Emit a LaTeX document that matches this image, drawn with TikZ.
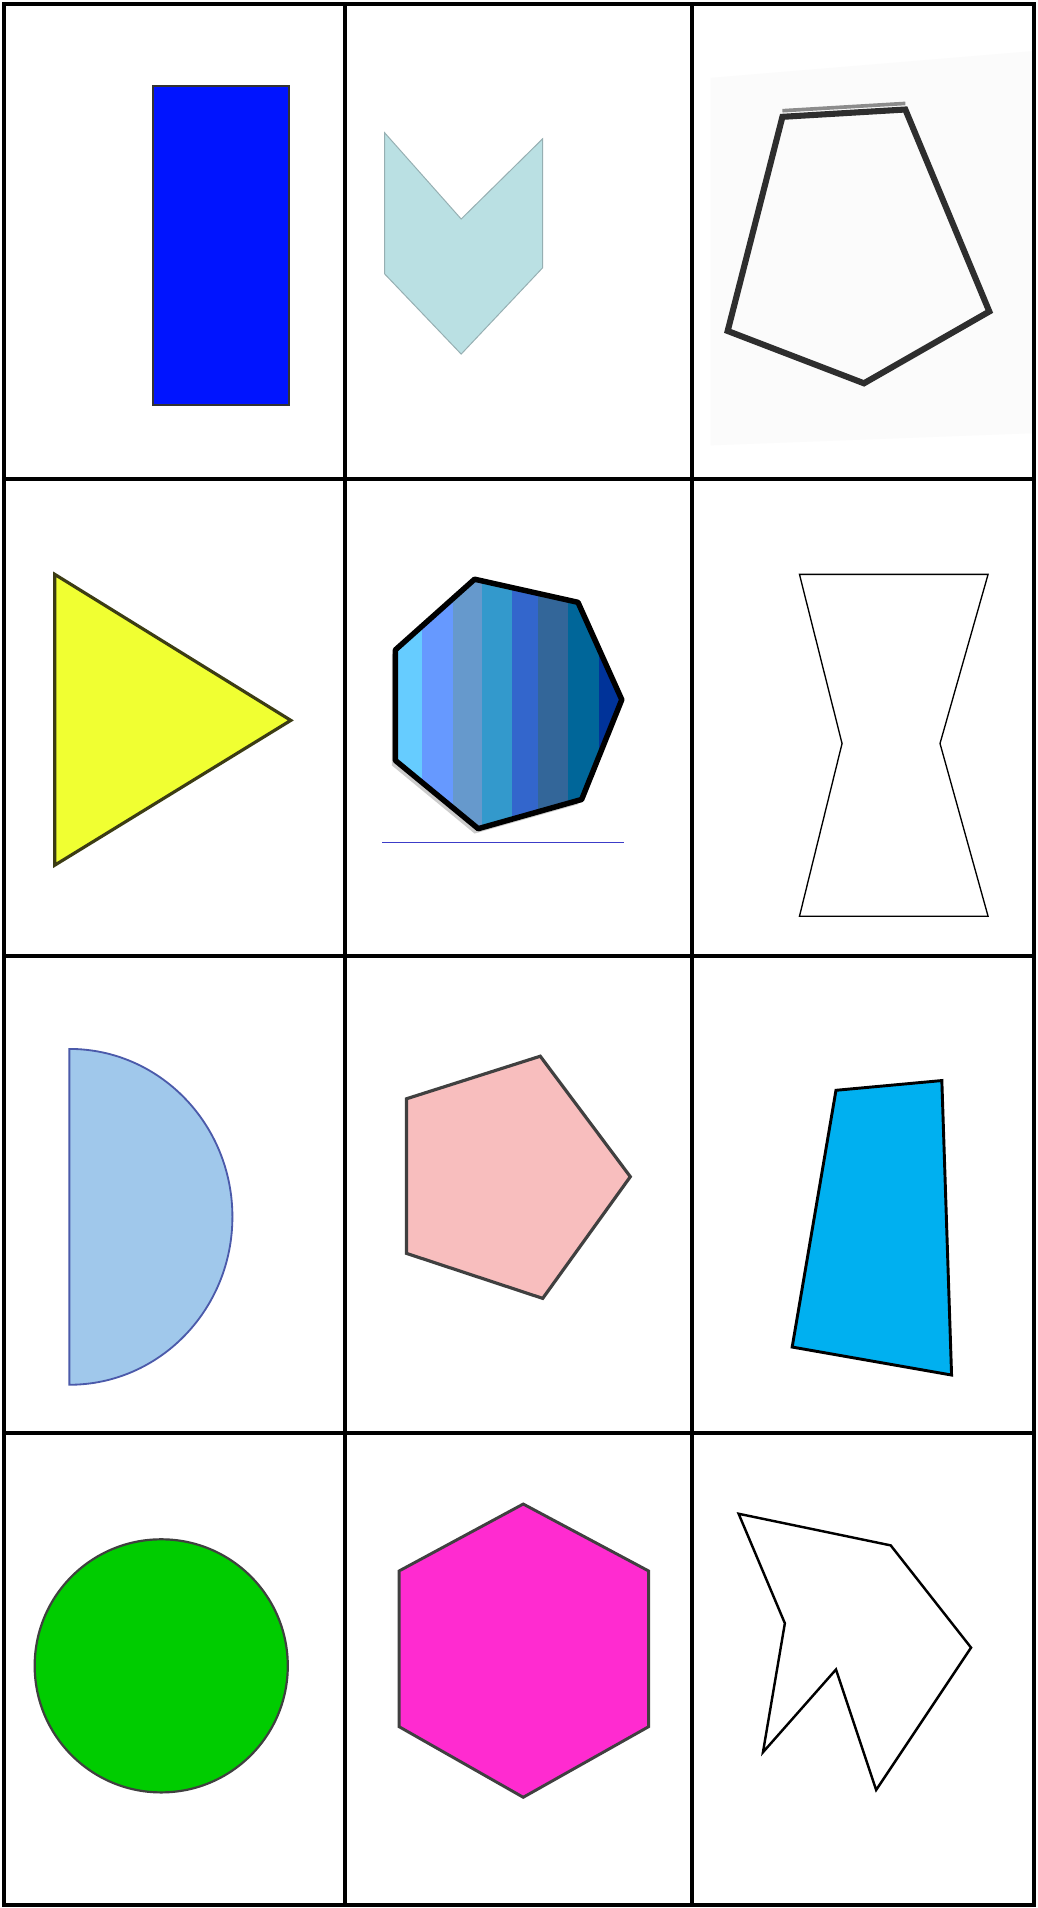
\documentclass[tikz,border=0pt]{standalone}
\definecolor{rectblue}{RGB}{0,20,255}
\definecolor{chevfill}{RGB}{186,224,227}
\definecolor{chevline}{RGB}{150,175,178}
\definecolor{trifill}{RGB}{240,255,50}
\definecolor{trilline}{RGB}{60,60,20}
\definecolor{semifill}{RGB}{160,200,235}
\definecolor{semiline}{RGB}{75,90,170}
\definecolor{pinkfill}{RGB}{248,190,190}
\definecolor{quadfill}{RGB}{0,176,240}
\definecolor{greenfill}{RGB}{0,204,0}
\definecolor{magfill}{RGB}{255,43,208}
\definecolor{sA}{HTML}{66CCFF}
\definecolor{sB}{HTML}{6699FF}
\definecolor{sC}{HTML}{6699CC}
\definecolor{sD}{HTML}{3399CC}
\definecolor{sE}{HTML}{3366CC}
\definecolor{sF}{HTML}{336699}
\definecolor{sG}{HTML}{006699}
\definecolor{sH}{HTML}{003399}
\definecolor{lineblue}{RGB}{60,60,200}
\tikzset{
  gridline/.style={line width=3pt, draw=black},
}
\begin{document}
\begin{tikzpicture}[x=1pt,y=-1pt]
\useasboundingbox (0,0) rectangle (853,1568);
\fill[white] (0,0) rectangle (853,1568);

% ---------- row 1 ----------
% blue rectangle
\draw[fill=rectblue, draw=black!80, line width=1.8pt] (125.5,70.5) rectangle (237.5,332.5);
% chevron
\draw[fill=chevfill, draw=chevline, line width=0.8pt, line join=miter]
  (316,109) -- (379,180) -- (446,114) -- (446,220) -- (379,291) -- (316,225) -- cycle;
% faint background of pentagon picture
\fill[black!1.5] (584,64) -- (849,42) -- (849,356) -- (584,366) -- cycle;
% pentagon outline
\draw[draw=black!45, line width=3pt] (643,91) -- (744,85);
\draw[draw=black!82, line width=5pt, line join=miter]
  (643,96) -- (744,90) -- (813,256) -- (710,315) -- (598,272) -- cycle;

% ---------- row 2 ----------
% yellow triangle
\draw[fill=trifill, draw=trilline, line width=2.6pt, line join=miter]
  (45,472) -- (239,592) -- (45,711) -- cycle;
% striped heptagon
\fill[black!20] (387,480) -- (472,499) -- (508,579) -- (475,661) -- (390,685) -- (322,629) -- (322,538) -- cycle;
\begin{scope}
  \path[clip] (390,476) -- (475,495) -- (511,575) -- (478,657) -- (393,681) -- (325,625) -- (325,534) -- cycle;
  \fill[sA] (320,470) rectangle (347,690);
  \fill[sB] (347,470) rectangle (372,690);
  \fill[sC] (372,470) rectangle (396,690);
  \fill[sD] (396,470) rectangle (421,690);
  \fill[sE] (421,470) rectangle (442,690);
  \fill[sF] (442,470) rectangle (467,690);
  \fill[sG] (467,470) rectangle (492,690);
  \fill[sH] (492,470) rectangle (515,690);
\end{scope}
\draw[black, line width=4.5pt, line join=round]
  (390,476) -- (475,495) -- (511,575) -- (478,657) -- (393,681) -- (325,625) -- (325,534) -- cycle;
\draw[lineblue, line width=0.8pt] (314,692) -- (513,692);
% hourglass outline
\draw[black, line width=1.1pt, line join=miter]
  (657,472) -- (812,472) -- (772.5,611) -- (812,753) -- (657,753) -- (692,611) -- cycle;

% ---------- row 3 ----------
% half disc
\draw[fill=semifill, draw=semiline, line width=1.5pt]
  (57,862) arc[start angle=-90, end angle=90, x radius=134, y radius=138] -- cycle;
% pink pentagon
\draw[fill=pinkfill, draw=black!75, line width=2.6pt, line join=miter]
  (334,903) -- (444,868) -- (518,967) -- (446,1067) -- (334,1030) -- cycle;
% cyan quadrilateral
\draw[fill=quadfill, draw=black, line width=2.4pt, line join=miter]
  (687,896) -- (774,888) -- (782,1130) -- (651,1107) -- cycle;

% ---------- row 4 ----------
% green circle
\draw[fill=greenfill, draw=black!75, line width=1.8pt] (132.5,1369) circle[radius=104];
% magenta hexagon
\draw[fill=magfill, draw=black!75, line width=2.4pt, line join=miter]
  (430,1236) -- (533,1291) -- (533,1419) -- (430,1477) -- (328,1419) -- (328,1291) -- cycle;
% arrow-like outline polygon
\draw[black, line width=2pt, line join=miter]
  (607,1244) -- (732,1270) -- (798,1354) -- (720,1471) -- (687,1372) -- (627,1440) -- (645,1334) -- cycle;

% ---------- grid ----------
\draw[gridline] (3.5,3.5) rectangle (849.5,1565.5);
\draw[gridline] (283.5,3.5) -- (283.5,1565.5);
\draw[gridline] (568.5,3.5) -- (568.5,1565.5);
\draw[gridline] (3.5,393.5) -- (849.5,393.5);
\draw[gridline] (3.5,785.5) -- (849.5,785.5);
\draw[gridline] (3.5,1177.5) -- (849.5,1177.5);
\end{tikzpicture}
\end{document}
